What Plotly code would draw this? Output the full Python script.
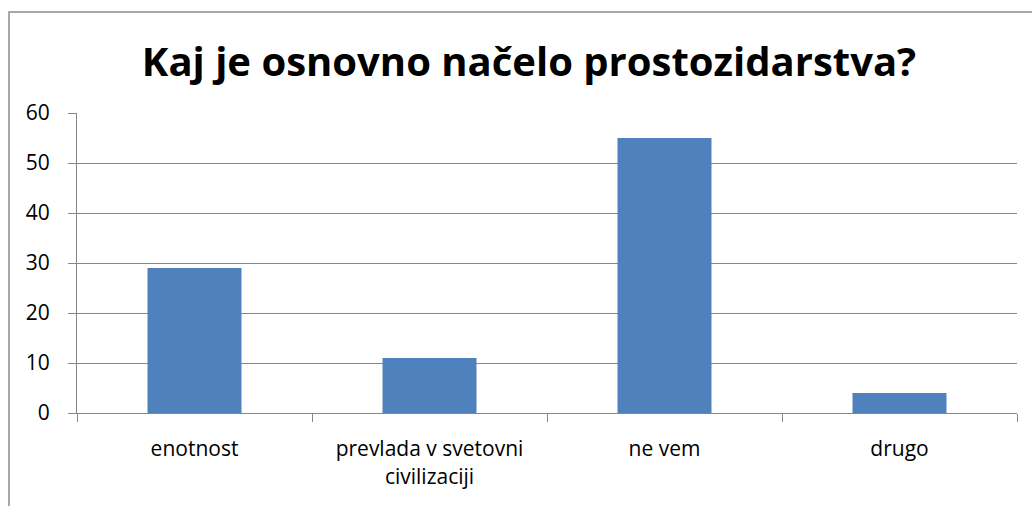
import plotly.graph_objects as go

categories = ["enotnost", "prevlada v svetovni<br>civilizaciji", "ne vem", "drugo"]
values = [29, 11, 55, 4]
y_ticks = [0, 10, 20, 30, 40, 50, 60]

FONT = "Open Sans"
GRID = "#868686"

fig = go.Figure(go.Bar(x=categories, y=values, marker=dict(color="#4F81BD", line=dict(width=0)),
                       hoverinfo="x+y"))

L, R, T, B = 77, 15, 113, 93
W, H = 1032, 506
pw, ph = W - L - R, H - T - B

fig.update_layout(
    width=W, height=H,
    margin=dict(l=L, r=R, t=T, b=B, pad=0),
    paper_bgcolor="white", plot_bgcolor="white",
    bargap=0.6,
    showlegend=False,
    title=dict(text="<b>Kaj je osnovno načelo prostozidarstva?</b>",
               font=dict(family=FONT, size=40, color="black"),
               x=(529 - L) / pw, xanchor="center", xref="paper", y=1 - 62 / H, yanchor="middle"),
    font=dict(family=FONT, size=21, color="black"),
    xaxis=dict(type="category", range=[-0.5, 3.5], showgrid=False, showline=True,
               linecolor=GRID, linewidth=1,
               ticks="outside", tickson="boundaries", ticklen=8, tickcolor=GRID,
               ticklabelstandoff=17,
               tickfont=dict(family=FONT, size=21, color="black")),
    yaxis=dict(range=[0, 60], tickvals=y_ticks, showgrid=True, gridcolor=GRID, gridwidth=1,
               showline=True, linecolor=GRID, linewidth=1, ticks="outside", ticklen=8,
               tickcolor=GRID, zeroline=False, ticklabelstandoff=14,
               tickfont=dict(family=FONT, size=21, color="black")),
    shapes=[dict(type="rect", xref="paper", yref="paper",
                 x0=(9 - L) / pw, x1=1.2, y0=-0.6, y1=(H - B - 12) / ph,
                 line=dict(color="#8c8c8c", width=1.5), fillcolor="rgba(0,0,0,0)", layer="below")],
)

fig.write_html("out.html", config={"displayModeBar": False, "responsive": False},
               post_script="document.body.style.margin='0';document.body.style.overflow='hidden';")
